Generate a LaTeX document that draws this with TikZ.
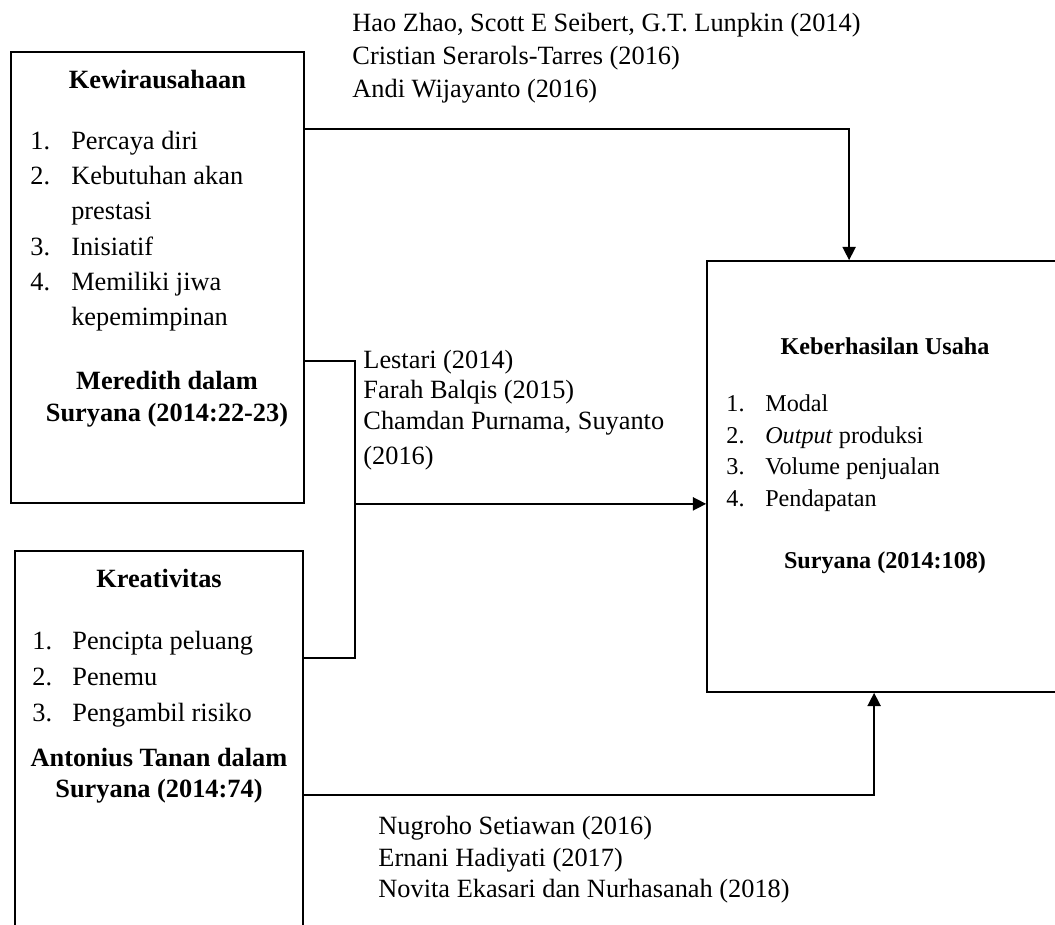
\documentclass[tikz,border=0pt]{standalone}
\usepackage{fontspec}
\setmainfont{Liberation Serif}
\usetikzlibrary{positioning, arrows.meta, fit, calc}

\begin{document}
\begin{tikzpicture}[
      x=0.016cm, y=-0.016cm,
      every node/.style={inner sep=0pt, font=\fontsize{12}{15}\selectfont},
      box/.style={draw, line width=0.8pt},
      head/.style={font=\fontsize{12}{15}\selectfont\bfseries},
      cite/.style={align=left, anchor=north west},
      src/.style={align=center, anchor=north, font=\fontsize{12}{14.5}\selectfont\bfseries},
      conn/.style={line width=0.7pt},
      arr/.style={line width=0.7pt, -{Triangle[length=6pt, width=6pt]}},
    ]
    \useasboundingbox (0,0) rectangle (1055,925);
    \clip (0,0) rectangle (1055,925);

    \node[box, fit={(11,52) (304,503)}] (kwu) {};
    \node[box, fit={(15,551) (303,945)}] (kre) {};
    \node[box, fit={(707,261) (1070,692)}] (kus) {};

    \node[head] (kwuT) at (157.5,80) {Kewirausahaan};
    \node[anchor=north west, font=\fontsize{12}{16.1}\selectfont] (kwuL) at (30,124)
      {\begin{tabular}{@{}p{18.6pt}@{}l@{}}
       1. & Percaya diri\\
       2. & Kebutuhan akan\\
          & prestasi\\
       3. & Inisiatif\\
       4. & Memiliki jiwa\\
          & kepemimpinan
       \end{tabular}};
    \node[src] (kwuS) at (167,370.5) {Meredith dalam\\Suryana (2014:22-23)};

    \node[head] (kreT) at (159,578) {Kreativitas};
    \node[anchor=north west, font=\fontsize{12}{16.4}\selectfont] (kreL) at (32,623.5)
      {\begin{tabular}{@{}p{18.2pt}@{}l@{}}
       1. & Pencipta peluang\\
       2. & Penemu\\
       3. & Pengambil risiko
       \end{tabular}};
    \node[src, font=\fontsize{12}{14.1}\selectfont\bfseries] (kreS) at (159,747.5)
      {Antonius Tanan dalam\\Suryana (2014:74)};

    \node[font=\fontsize{11}{13}\selectfont\bfseries] (kusT) at (885,346) {Keberhasilan Usaha};
    \node[anchor=north west, font=\fontsize{11}{14.4}\selectfont] (kusL) at (726,389)
      {\begin{tabular}{@{}p{17.7pt}@{}l@{}}
       1. & Modal\\
       2. & \textit{Output} produksi\\
       3. & Volume penjualan\\
       4. & Pendapatan
       \end{tabular}};
    \node[font=\fontsize{11}{13}\selectfont\bfseries] (kusS) at (885,563) {Suryana (2014:108)};

    \node[cite] (refA) at (352,12.5)
      {Hao Zhao, Scott E Seibert, G.T. Lunpkin (2014)\\
       Cristian Serarols-Tarres (2016)\\
       Andi Wijayanto (2016)};
    \node[cite, font=\fontsize{12}{13.9}\selectfont] (refB) at (363,349.5)
      {Lestari (2014)\\Farah Balqis (2015)\\Chamdan Purnama, Suyanto\\[2pt](2016)};
    \node[cite, font=\fontsize{12}{14.5}\selectfont] (refC) at (378,815.5)
      {Nugroho Setiawan (2016)\\Ernani Hadiyati (2017)\\Novita Ekasari dan Nurhasanah (2018)};

    \draw[arr] ($(kwu.north east)+(0,78)$) -| ($(kus.north west)+(143,0)$);
    \draw[conn] ($(kwu.north east)+(0,310)$) -- ++(50,0) coordinate (jn)
      |- ($(kre.north east)+(0,108)$);
    \draw[arr] (jn |- kwu.south) -- (kwu.south -| kus.west);
    \draw[arr] ($(kre.north east)+(0,245)$) -| ($(kus.south west)+(168,0)$);
  \end{tikzpicture}
\end{document}
